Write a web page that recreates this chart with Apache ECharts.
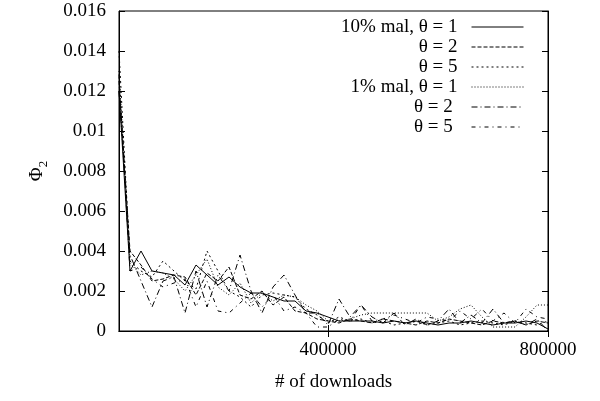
<!DOCTYPE html>
<html>
<head>
<meta charset="utf-8">
<script src="https://cdn.jsdelivr.net/npm/echarts@6/dist/echarts.min.js"></script>
<style>
  html, body { margin: 0; padding: 0; background: #fff; }
  #chart { width: 600px; height: 401px; }
</style>
</head>
<body>
<div id="chart"></div>
<script>
// Number of downloads at each sample (every 20000 up to 800000)
const downloads = [
  20000, 40000, 60000, 80000, 100000, 120000, 140000, 160000, 180000, 200000,
  220000, 240000, 260000, 280000, 300000, 320000, 340000, 360000, 380000, 400000,
  420000, 440000, 460000, 480000, 500000, 520000, 540000, 560000, 580000, 600000,
  620000, 640000, 660000, 680000, 700000, 720000, 740000, 760000, 780000, 800000
];

// Phi_2 for 10% malicious peers
const mal10theta1 = [
  0.0120, 0.0030, 0.0040, 0.0030, 0.0029, 0.0028, 0.0023, 0.0033, 0.0028, 0.0023,
  0.0027, 0.0022, 0.0019, 0.0019, 0.0017, 0.0015, 0.0015, 0.0010, 0.0009, 0.0007,
  0.0005, 0.0005, 0.0005, 0.0005, 0.0004, 0.0005, 0.0004, 0.0005, 0.0004, 0.0003,
  0.0004, 0.0004, 0.0005, 0.0004, 0.0003, 0.0004, 0.0004, 0.0005, 0.0004, 0.0001
];
const mal10theta2 = [
  0.0125, 0.0040, 0.0033, 0.0025, 0.0026, 0.0028, 0.0027, 0.0018, 0.0029, 0.0025,
  0.0032, 0.0018, 0.0016, 0.0020, 0.0013, 0.0017, 0.0010, 0.0009, 0.0006, 0.0005,
  0.0004, 0.0006, 0.0005, 0.0004, 0.0006, 0.0005, 0.0004, 0.0003, 0.0005, 0.0004,
  0.0006, 0.0005, 0.0004, 0.0003, 0.0005, 0.0004, 0.0005, 0.0003, 0.0005, 0.0004
];
const mal10theta5 = [
  0.0140, 0.0035, 0.0030, 0.0027, 0.0035, 0.0030, 0.0025, 0.0021, 0.0040, 0.0030,
  0.0020, 0.0017, 0.0012, 0.0018, 0.0019, 0.0018, 0.0017, 0.0011, 0.0008, 0.0004,
  0.0007, 0.0005, 0.0006, 0.0004, 0.0005, 0.0003, 0.0004, 0.0005, 0.0003, 0.0004,
  0.0005, 0.0003, 0.0004, 0.0005, 0.0004, 0.0003, 0.0005, 0.0004, 0.0003, 0.0005
];

// Phi_2 for 1% malicious peers
const mal1theta1 = [
  0.0130, 0.0034, 0.0028, 0.0030, 0.0029, 0.0026, 0.0020, 0.0028, 0.0036, 0.0022,
  0.0018, 0.0024, 0.0014, 0.0019, 0.0015, 0.0018, 0.0017, 0.0013, 0.0010, 0.0005,
  0.0005, 0.0006, 0.0008, 0.0009, 0.0009, 0.0009, 0.0009, 0.0009, 0.0009, 0.0005,
  0.0007, 0.0011, 0.0013, 0.0007, 0.0002, 0.0002, 0.0002, 0.0007, 0.0013, 0.0013
];
const mal1theta2 = [
  0.0120, 0.0038, 0.0025, 0.0012, 0.0025, 0.0027, 0.0009, 0.0030, 0.0012, 0.0028,
  0.0020, 0.0038, 0.0020, 0.0009, 0.0022, 0.0028, 0.0018, 0.0009, 0.0009, 0.0003,
  0.0016, 0.0007, 0.0013, 0.0007, 0.0004, 0.0009, 0.0003, 0.0006, 0.0003, 0.0005,
  0.0011, 0.0004, 0.0008, 0.0004, 0.0011, 0.0004, 0.0005, 0.0003, 0.0006, 0.0000
];
const mal1theta5 = [
  0.0128, 0.0030, 0.0032, 0.0026, 0.0022, 0.0024, 0.0026, 0.0012, 0.0025, 0.0010,
  0.0009, 0.0014, 0.0019, 0.0012, 0.0018, 0.0010, 0.0012, 0.0009, 0.0002, 0.0002,
  0.0006, 0.0005, 0.0013, 0.0005, 0.0006, 0.0008, 0.0006, 0.0004, 0.0007, 0.0006,
  0.0005, 0.0010, 0.0006, 0.0011, 0.0005, 0.0009, 0.0004, 0.0011, 0.0007, 0.0006
];

const seriesNames = ['10% mal, θ = 1', 'θ = 2', 'θ = 5', '1% mal, θ = 1', 'θ = 2 ', 'θ = 5 '];
const seriesValues = [mal10theta1, mal10theta2, mal10theta5, mal1theta1, mal1theta2, mal1theta5];
const dashStyles = ['solid', [4, 2], [2, 3], [1, 2], [6, 3, 1, 3], [4, 4, 1, 4]];

const xTicks = [400000, 800000];
const yTicks = [0, 0.002, 0.004, 0.006, 0.008, 0.01, 0.012, 0.014, 0.016];

const FONT = '"Liberation Serif", "Times New Roman", serif';

const chart = echarts.init(document.getElementById('chart'), null, { renderer: 'canvas' });

const series = seriesValues.map((vals, k) => ({
  name: seriesNames[k],
  type: 'line',
  data: downloads.map((x, i) => [x, vals[i]]),
  showSymbol: false,
  symbol: 'none',
  animation: false,
  lineStyle: { color: '#000', width: 1, type: dashStyles[k] },
  itemStyle: { color: '#000' }
}));

// one legend block per series so labels right-align against their line samples
const legends = seriesNames.map((name, k) => ({
  data: [name],
  right: 76,
  top: 17 + k * 20,
  align: 'right',
  padding: 0,
  itemWidth: 52,
  itemHeight: 20,
  selectedMode: false,
  itemStyle: { opacity: 0 },
  lineStyle: { width: 1 },
  textStyle: { fontFamily: FONT, fontSize: 19, color: '#000', lineHeight: 20, padding: [0, 9, 0, 0] }
}));

const tickLabel = { fontFamily: FONT, fontSize: 19, color: '#000' };

chart.setOption({
  animation: false,
  backgroundColor: '#fff',
  legend: legends,
  grid: {
    left: 119, right: 52, top: 11, bottom: 70,
    show: true, borderColor: '#000', borderWidth: 1
  },
  xAxis: [{
    type: 'value',
    min: 20000,
    max: 800000,
    name: '# of downloads',
    nameLocation: 'middle',
    nameGap: 42,
    nameTextStyle: { fontFamily: FONT, fontSize: 19, color: '#000' },
    axisLine: { show: true, lineStyle: { color: '#000' } },
    axisTick: { show: true, inside: true, length: 6, lineStyle: { color: '#000' }, customValues: xTicks },
    axisLabel: { show: true, margin: 10, ...tickLabel, customValues: xTicks, formatter: v => String(v) },
    splitLine: { show: false }
  }, {
    type: 'value',
    position: 'top',
    min: 20000,
    max: 800000,
    axisLine: { show: true, lineStyle: { color: '#000' } },
    axisTick: { show: true, inside: true, length: 6, lineStyle: { color: '#000' }, customValues: xTicks },
    axisLabel: { show: false },
    splitLine: { show: false }
  }],
  yAxis: [{
    type: 'value',
    min: 0,
    max: 0.016,
    interval: 0.002,
    name: '{a|Φ}{b|2}',
    nameLocation: 'middle',
    nameRotate: 90,
    nameGap: 72,
    nameTextStyle: {
      fontFamily: FONT, color: '#000',
      rich: {
        a: { fontFamily: FONT, fontSize: 19, color: '#000', lineHeight: 24, verticalAlign: 'bottom' },
        b: { fontFamily: FONT, fontSize: 13, color: '#000', lineHeight: 24, verticalAlign: 'bottom', padding: [0, 0, -3, 0] }
      }
    },
    axisLine: { show: true, lineStyle: { color: '#000' } },
    axisTick: { show: true, inside: true, length: 6, lineStyle: { color: '#000' } },
    axisLabel: { show: true, margin: 13, ...tickLabel, customValues: yTicks, formatter: v => String(Number(v.toFixed(3))) },
    splitLine: { show: false }
  }, {
    type: 'value',
    position: 'right',
    min: 0,
    max: 0.016,
    interval: 0.002,
    axisLine: { show: true, lineStyle: { color: '#000' } },
    axisTick: { show: true, inside: true, length: 6, lineStyle: { color: '#000' } },
    axisLabel: { show: false },
    splitLine: { show: false }
  }],
  series: series
});
</script>
</body>
</html>
